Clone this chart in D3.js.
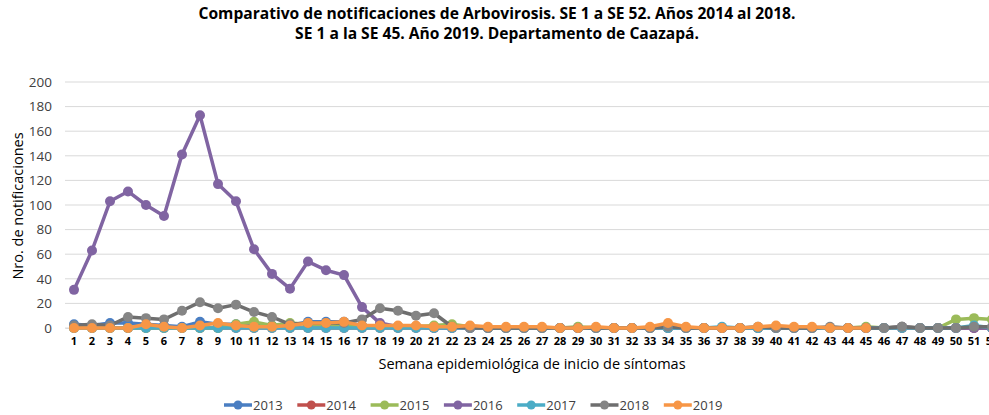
<!DOCTYPE html>
<html>
<head>
<meta charset="utf-8">
<script src="https://cdn.jsdelivr.net/npm/d3@7"></script>
<style>
  body { margin: 0; background: #fff; }
  text { font-family: "Open Sans", "Noto Sans", sans-serif; }
</style>
</head>
<body>
<div id="chart"></div>
<script>
// semanas epidemiológicas
const weeks = d3.range(1, 53);
const yTicks = d3.range(0, 201, 20);

// valores por año
const s2013 = [3,2,4,4,3,2,1,5,3,3,3,2,2,5,5,5,2,1,1,1,1,1,0,0,0,0,0,0,0,0,0,0,0,0,0,0,0,0,0,0,0,0,0,0,0,0,0,0,0,0,0,0];
const s2014 = [0,0,0,0,0,0,0,0,0,0,0,0,0,0,0,0,0,0,0,0,0,0,0,0,0,0,0,0,0,0,0,0,0,0,0,0,0,0,0,0,0,0,0,0,0,0,0,0,0,0,0,0];
const s2015 = [0,0,0,0,0,0,0,0,0,3,5,2,4,3,3,2,1,1,1,1,2,3,1,0,0,0,0,0,1,0,0,0,0,0,0,0,0,0,0,0,0,0,0,0,1,0,1,0,0,7,8,7];
const s2016 = [31,63,103,111,100,91,141,173,117,103,64,44,32,54,47,43,17,4,1,1,0,0,0,0,0,0,0,0,0,0,0,0,0,0,0,0,0,0,0,0,0,0,0,0,0,0,1,0,0,0,0,0];
const s2017 = [0,0,0,0,0,0,0,0,0,0,0,0,0,0,0,0,0,0,0,0,0,0,0,0,0,0,0,0,0,0,0,0,0,0,0,0,1,0,0,0,0,0,0,0,0,0,0,0,0,0,2,0];
const s2018 = [2,3,2,9,8,7,14,21,16,19,13,9,3,4,4,4,7,16,14,10,12,1,0,0,0,0,0,0,0,0,0,0,0,1,0,0,0,0,1,0,0,0,1,0,0,0,1,0,0,0,1,1];
const s2019 = [0,0,0,0,3,1,0,2,4,2,1,1,2,4,4,5,2,2,2,2,1,1,2,1,1,1,1,0,0,1,0,0,1,4,1,0,0,0,1,2,1,1,0,0,0];

const years = ["2013", "2014", "2015", "2016", "2017", "2018", "2019"];
const seriesValues = [s2013, s2014, s2015, s2016, s2017, s2018, s2019];
const colors = ["#4a7ec2", "#c0504d", "#9bbb59", "#8064a2", "#4bacc6", "#6e6e6e", "#f79646"];
const markerColors = ["#4a7ec2", "#c0504d", "#9bbb59", "#8064a2", "#4bacc6", "#858585", "#f79646"];

const WIDTH = 989;
const HEIGHT = 415;

const svg = d3.select("#chart")
  .append("svg")
  .attr("width", WIDTH)
  .attr("height", HEIGHT);

// escalas
const x = d3.scaleBand().domain(weeks).range([65, 1001]);
const y = d3.scaleLinear().domain([0, 200]).range([328, 82]);
const cx = d => x(d) + x.bandwidth() / 2;

// título
svg.append("text")
  .attr("x", 497).attr("y", 19)
  .attr("text-anchor", "middle")
  .attr("font-size", 15.6).attr("font-weight", "bold").attr("fill", "#000")
  .text("Comparativo de notificaciones de Arbovirosis. SE 1 a SE 52. Años 2014 al 2018.");
svg.append("text")
  .attr("x", 497).attr("y", 39)
  .attr("text-anchor", "middle")
  .attr("font-size", 15.6).attr("font-weight", "bold").attr("fill", "#000")
  .text("SE 1 a la SE 45. Año 2019. Departamento de Caazapá.");

// líneas de cuadrícula
svg.append("g")
  .selectAll("line")
  .data(yTicks)
  .join("line")
  .attr("x1", 65).attr("x2", WIDTH)
  .attr("y1", d => y(d)).attr("y2", d => y(d))
  .attr("stroke", "#d9d9d9").attr("stroke-width", 1);

// eje Y
const yAxis = svg.append("g")
  .attr("transform", "translate(59,0)")
  .call(d3.axisLeft(y).tickValues(yTicks).tickSize(0).tickPadding(7));
yAxis.select(".domain").remove();
yAxis.selectAll("text")
  .attr("font-size", 13.5).attr("fill", "#404040")
  .style("font-family", "'Open Sans', sans-serif");

// eje X
const xAxis = svg.append("g")
  .attr("transform", "translate(0,328)")
  .call(d3.axisBottom(x).tickSize(0).tickPadding(9));
xAxis.select(".domain")
  .attr("stroke", "#d9d9d9");
xAxis.selectAll("text")
  .attr("font-size", 11).attr("font-weight", "bold").attr("fill", "#000")
  .style("font-family", "'Open Sans', sans-serif");

// títulos de ejes
svg.append("text")
  .attr("transform", "translate(23,206) rotate(-90)")
  .attr("text-anchor", "middle")
  .attr("font-size", 14.5).attr("fill", "#000")
  .text("Nro. de notificaciones");

svg.append("text")
  .attr("x", 532).attr("y", 369)
  .attr("text-anchor", "middle")
  .attr("font-size", 14.5).attr("fill", "#000")
  .text("Semana epidemiológica de inicio de síntomas");

// series
const line = d3.line()
  .x((d, i) => cx(weeks[i]))
  .y(d => y(d));

const plot = svg.append("g");
seriesValues.forEach((vals, k) => {
  const g = plot.append("g");
  g.append("path")
    .datum(vals)
    .attr("fill", "none")
    .attr("stroke", colors[k])
    .attr("stroke-width", 3.5)
    .attr("stroke-linejoin", "round")
    .attr("d", line);
  g.selectAll("circle")
    .data(vals)
    .join("circle")
    .attr("cx", (d, i) => cx(weeks[i]))
    .attr("cy", d => y(d))
    .attr("r", 5)
    .attr("fill", markerColors[k]);
});

// leyenda
const legend = svg.append("g");
years.forEach((yr, k) => {
  const lx = 224 + k * 73.3;
  const item = legend.append("g").attr("transform", `translate(${lx},405)`);
  item.append("line")
    .attr("x1", 0).attr("x2", 28)
    .attr("stroke", colors[k]).attr("stroke-width", 3.5);
  item.append("circle")
    .attr("cx", 14).attr("r", 4.5).attr("fill", markerColors[k]);
  item.append("text")
    .attr("x", 29).attr("y", 5)
    .attr("font-size", 13).attr("fill", "#404040")
    .text(yr);
});
</script>
</body>
</html>
